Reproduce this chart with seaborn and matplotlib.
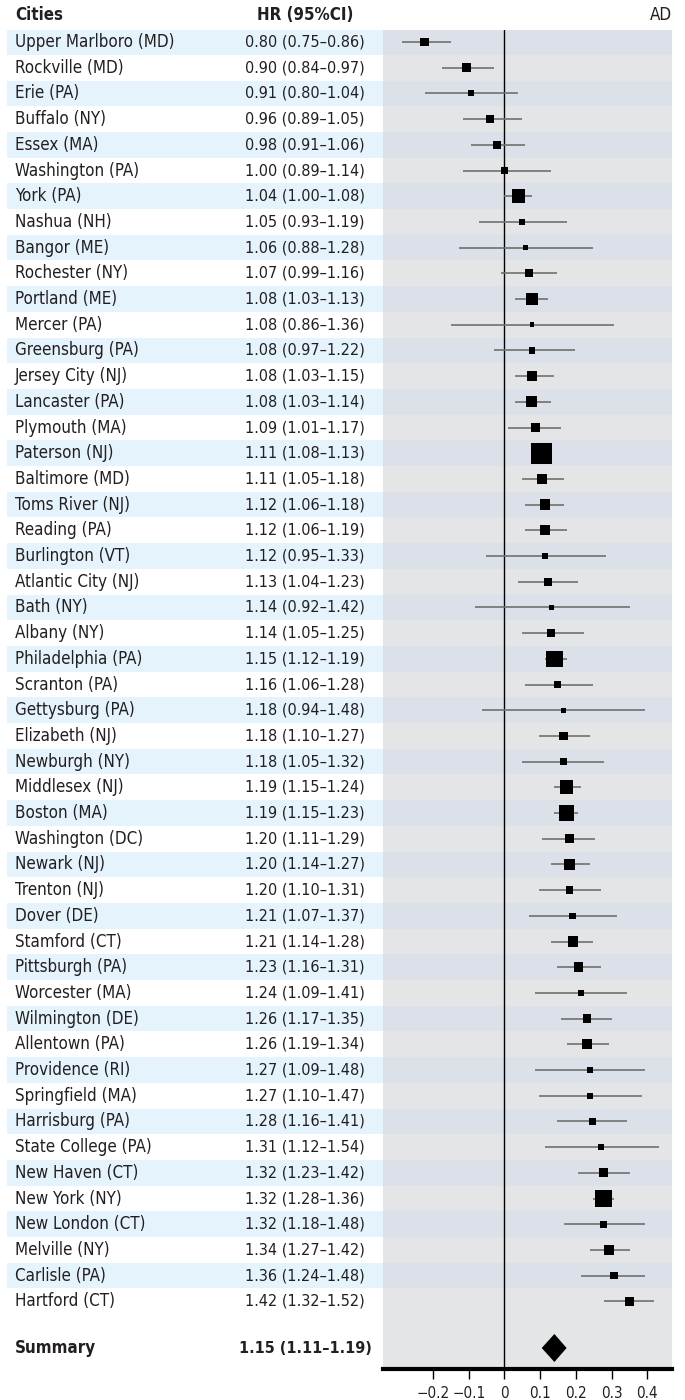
import numpy as np
import pandas as pd
import seaborn as sns
import matplotlib.pyplot as plt

cities = ["Upper Marlboro (MD)", "Rockville (MD)", "Erie (PA)", "Buffalo (NY)", "Essex (MA)",
          "Washington (PA)", "York (PA)", "Nashua (NH)", "Bangor (ME)", "Rochester (NY)",
          "Portland (ME)", "Mercer (PA)", "Greensburg (PA)", "Jersey City (NJ)", "Lancaster (PA)",
          "Plymouth (MA)", "Paterson (NJ)", "Baltimore (MD)", "Toms River (NJ)", "Reading (PA)",
          "Burlington (VT)", "Atlantic City (NJ)", "Bath (NY)", "Albany (NY)", "Philadelphia (PA)",
          "Scranton (PA)", "Gettysburg (PA)", "Elizabeth (NJ)", "Newburgh (NY)", "Middlesex (NJ)",
          "Boston (MA)", "Washington (DC)", "Newark (NJ)", "Trenton (NJ)", "Dover (DE)",
          "Stamford (CT)", "Pittsburgh (PA)", "Worcester (MA)", "Wilmington (DE)", "Allentown (PA)",
          "Providence (RI)", "Springfield (MA)", "Harrisburg (PA)", "State College (PA)", "New Haven (CT)",
          "New York (NY)", "New London (CT)", "Melville (NY)", "Carlisle (PA)", "Hartford (CT)"]
hr = [0.80, 0.90, 0.91, 0.96, 0.98, 1.00, 1.04, 1.05, 1.06, 1.07,
      1.08, 1.08, 1.08, 1.08, 1.08, 1.09, 1.11, 1.11, 1.12, 1.12,
      1.12, 1.13, 1.14, 1.14, 1.15, 1.16, 1.18, 1.18, 1.18, 1.19,
      1.19, 1.20, 1.20, 1.20, 1.21, 1.21, 1.23, 1.24, 1.26, 1.26,
      1.27, 1.27, 1.28, 1.31, 1.32, 1.32, 1.32, 1.34, 1.36, 1.42]
lo = [0.75, 0.84, 0.80, 0.89, 0.91, 0.89, 1.00, 0.93, 0.88, 0.99,
      1.03, 0.86, 0.97, 1.03, 1.03, 1.01, 1.08, 1.05, 1.06, 1.06,
      0.95, 1.04, 0.92, 1.05, 1.12, 1.06, 0.94, 1.10, 1.05, 1.15,
      1.15, 1.11, 1.14, 1.10, 1.07, 1.14, 1.16, 1.09, 1.17, 1.19,
      1.09, 1.10, 1.16, 1.12, 1.23, 1.28, 1.18, 1.27, 1.24, 1.32]
hi = [0.86, 0.97, 1.04, 1.05, 1.06, 1.14, 1.08, 1.19, 1.28, 1.16,
      1.13, 1.36, 1.22, 1.15, 1.14, 1.17, 1.13, 1.18, 1.18, 1.19,
      1.33, 1.23, 1.42, 1.25, 1.19, 1.28, 1.48, 1.27, 1.32, 1.24,
      1.23, 1.29, 1.27, 1.31, 1.37, 1.28, 1.31, 1.41, 1.35, 1.34,
      1.48, 1.47, 1.41, 1.54, 1.42, 1.36, 1.48, 1.42, 1.48, 1.52]
summary_hr, summary_lo, summary_hi = 1.15, 1.11, 1.19
xticks = [-0.2, -0.1, 0, 0.1, 0.2, 0.3, 0.4]

sns.set_theme(style="white")
plt.rcParams['font.family'] = ['DejaVu Sans']
plt.rcParams['font.stretch'] = 'condensed'
TXT = '#231f20'
FS = 12.2
FS_HR = 11.6

df = pd.DataFrame({"city": cities, "hr": hr, "lo": lo, "hi": hi})
df["row"] = np.arange(len(df))
df["x"] = np.log(df["hr"])
width = np.log(df["hi"] / df["lo"])
side_pt = (3.15 + 0.8 / width) * 0.72
df["area"] = side_pt ** 2

W, H = 685, 1400
fig = plt.figure(figsize=(6.85, 14), dpi=100)
ytop, ybot = 30, 1369
row0, rowh = 42, 25.7
ylim = ((ybot - row0) / rowh, (ytop - row0) / rowh)
srow = (1348 - row0) / rowh

# forest panel
ax = fig.add_axes([383 / W, 1 - ybot / H, (672 - 383) / W, (ybot - ytop) / H])
ax.set_facecolor('#e4e5e7')
for i in range(len(df)):
    if i % 2 == 0:
        ax.axhspan(i - 0.5, i + 0.5, color='#dce1e9', lw=0, zorder=0)
ax.axvline(0, color='black', lw=1, zorder=1)
ax.hlines(df["row"], np.log(df["lo"]), np.log(df["hi"]), color='#707070', lw=1.2, zorder=2)
sns.scatterplot(data=df, x="x", y="row", size="area", sizes=(df["area"].min(), df["area"].max()),
                size_norm=(df["area"].min(), df["area"].max()), marker='s', color='black',
                linewidth=0, legend=False, ax=ax, zorder=3)
dh = 14 / rowh
ax.fill([np.log(summary_lo), np.log(summary_hr), np.log(summary_hi), np.log(summary_hr)],
        [srow, srow - dh, srow, srow + dh], color='black', lw=0, zorder=3)
ax.set_xlim(-0.34, 0.469)
ax.set_ylim(*ylim)
ax.set_xticks(xticks)
ax.set_xticklabels(['\u22120.2', '\u22120.1', '0', '0.1', '0.2', '0.3', '0.4'])
ax.set_yticks([])
ax.set_xlabel('')
ax.set_ylabel('')
for s in ['top', 'left', 'right']:
    ax.spines[s].set_visible(False)
ax.spines['bottom'].set_linewidth(3)
ax.spines['bottom'].set_color('black')
ax.tick_params(axis='x', direction='out', length=7, width=1, color='black', pad=5,
               labelsize=11, labelcolor=TXT, bottom=True)

# table panel
tax = fig.add_axes([0, 1 - ybot / H, 383 / W, (ybot - ytop) / H])
tax.set_xlim(0, 383)
tax.set_ylim(*ylim)
tax.axis('off')
for i in range(len(df)):
    if i % 2 == 0:
        tax.axhspan(i - 0.5, i + 0.5, xmin=7 / 383, xmax=1, color='#e5f4fc', lw=0, zorder=0)
for i, r in df.iterrows():
    tax.text(15, r["row"], r["city"], ha='left', va='center', fontsize=FS, color=TXT)
    tax.text(305, r["row"], f'{r["hr"]:.2f} ({r["lo"]:.2f}\u2013{r["hi"]:.2f})',
             ha='center', va='center', fontsize=FS_HR, color=TXT)
tax.text(15, srow, 'Summary', ha='left', va='center', fontsize=FS, fontweight='bold', color=TXT)
tax.text(305, srow, f'{summary_hr:.2f} ({summary_lo:.2f}\u2013{summary_hi:.2f})',
         ha='center', va='center', fontsize=FS_HR, fontweight='bold', color=TXT)

fig.text(15 / W, 1 - 15 / H, 'Cities', ha='left', va='center', fontsize=FS, fontweight='bold', color=TXT)
fig.text(305 / W, 1 - 15 / H, 'HR (95%CI)', ha='center', va='center', fontsize=FS, fontweight='bold', color=TXT)
fig.text(672 / W, 1 - 15 / H, 'AD', ha='right', va='center', fontsize=FS, color=TXT)

fig.savefig('out.png', dpi=100)
